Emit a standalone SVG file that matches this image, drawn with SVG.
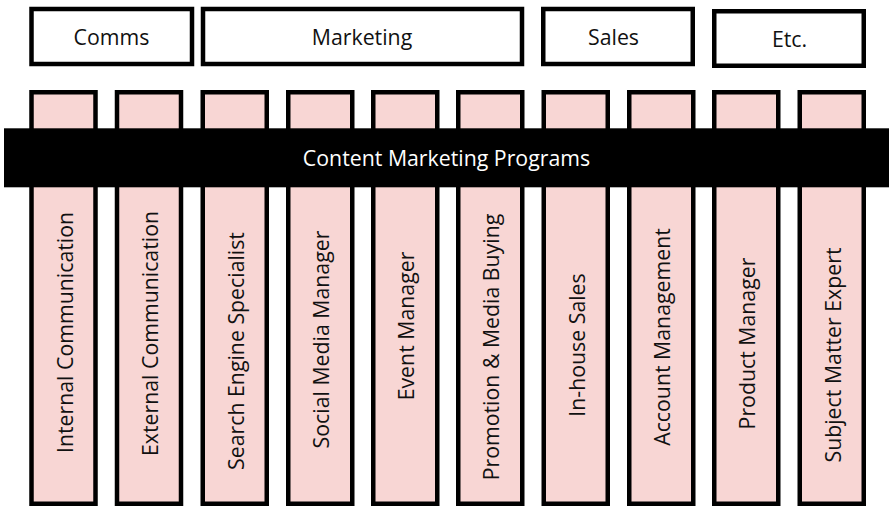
<svg xmlns="http://www.w3.org/2000/svg" width="889" height="506" viewBox="0 0 889 506">
  <style>
    .hdr { fill: #ffffff; stroke: #000000; stroke-width: 4.5; }
    .col { fill: #f8d6d4; stroke: #000000; stroke-width: 4.5; }
    .lbl { font-family: "Open Sans", "Noto Sans", "Liberation Sans", sans-serif; font-size: 21.3px; fill: #111111; text-anchor: middle; }
    .bar-lbl { font-family: "Open Sans", "Noto Sans", "Liberation Sans", sans-serif; font-size: 21.3px; fill: #ffffff; text-anchor: middle; }
  </style>

  <!-- Department headers -->
  <g id="hdr-comms">
    <rect class="hdr" x="31.5" y="9" width="160.5" height="55"/>
    <text class="lbl" x="111.5" y="45">Comms</text>
  </g>
  <g id="hdr-marketing">
    <rect class="hdr" x="203" y="9" width="319" height="55"/>
    <text class="lbl" x="362" y="45">Marketing</text>
  </g>
  <g id="hdr-sales">
    <rect class="hdr" x="543.25" y="9" width="149.5" height="55"/>
    <text class="lbl" x="613.5" y="45">Sales</text>
  </g>
  <g id="hdr-etc">
    <rect class="hdr" x="714.25" y="11.25" width="149.5" height="54.5"/>
    <text class="lbl" x="789.5" y="47">Etc.</text>
  </g>

  <!-- Role columns -->
  <g id="col-internal-comm">
    <rect class="col" x="31.5" y="92.25" width="64" height="411.5"/>
    <text class="lbl" transform="translate(72.5,332.5) rotate(-90)">Internal Communication</text>
  </g>
  <g id="col-external-comm">
    <rect class="col" x="117" y="92.25" width="64" height="411.5"/>
    <text class="lbl" transform="translate(158,333.5) rotate(-90)">External Communication</text>
  </g>
  <g id="col-seo">
    <rect class="col" x="202.75" y="92.25" width="64" height="411.5"/>
    <text class="lbl" transform="translate(243.75,351) rotate(-90)">Search Engine Specialist</text>
  </g>
  <g id="col-social">
    <rect class="col" x="288.25" y="92.25" width="64" height="411.5"/>
    <text class="lbl" transform="translate(329.25,339.5) rotate(-90)">Social Media Manager</text>
  </g>
  <g id="col-event">
    <rect class="col" x="373.25" y="92.25" width="64" height="411.5"/>
    <text class="lbl" transform="translate(414.25,326) rotate(-90)">Event Manager</text>
  </g>
  <g id="col-promotion">
    <rect class="col" x="458.25" y="92.25" width="64" height="411.5"/>
    <text class="lbl" transform="translate(499.25,347) rotate(-90)">Promotion &amp; Media Buying</text>
  </g>
  <g id="col-inhouse-sales">
    <rect class="col" x="543.75" y="92.25" width="64" height="411.5"/>
    <text class="lbl" transform="translate(584.75,345) rotate(-90)">In-house Sales</text>
  </g>
  <g id="col-account">
    <rect class="col" x="629.25" y="92.25" width="64" height="411.5"/>
    <text class="lbl" transform="translate(670.25,337) rotate(-90)">Account Management</text>
  </g>
  <g id="col-product">
    <rect class="col" x="714.25" y="92.25" width="64" height="411.5"/>
    <text class="lbl" transform="translate(755.25,343.5) rotate(-90)">Product Manager</text>
  </g>
  <g id="col-sme">
    <rect class="col" x="799.75" y="92.25" width="64" height="411.5"/>
    <text class="lbl" transform="translate(840.75,355) rotate(-90)">Subject Matter Expert</text>
  </g>

  <!-- Cross-cutting band -->
  <g id="band-content-marketing">
    <rect x="4" y="128.3" width="885" height="59" fill="#000000"/>
    <text class="bar-lbl" x="446.5" y="165.5">Content Marketing Programs</text>
  </g>

  <g id="connectors"/>
</svg>
